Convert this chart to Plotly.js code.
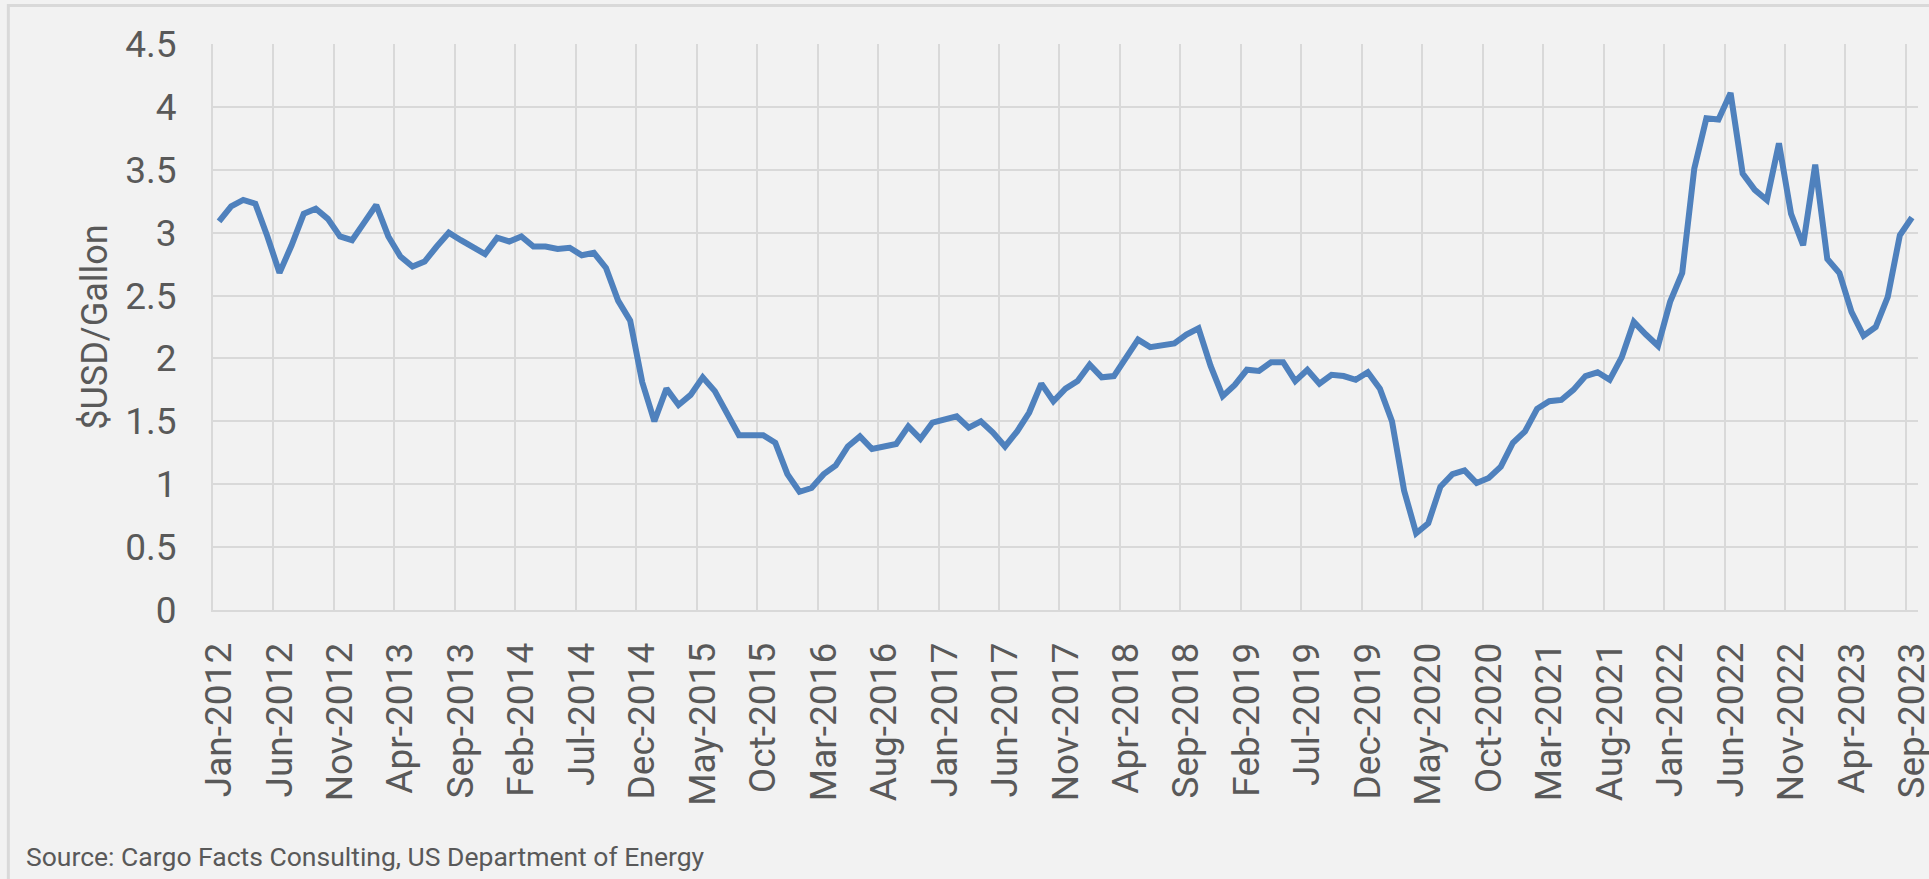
<!DOCTYPE html>
<html>
<head>
<meta charset="utf-8">
<script src="https://cdn.plot.ly/plotly-3.0.1.min.js"></script>
<style>
html,body{margin:0;padding:0;background:#f2f2f2;}
#chart{width:1929px;height:879px;}
</style>
</head>
<body>
<div id="chart"></div>
<script>
// Monthly jet fuel price, $USD/Gallon, Jan-2012 .. Sep-2023
const monthNames = ["Jan","Feb","Mar","Apr","May","Jun","Jul","Aug","Sep","Oct","Nov","Dec"];
const years = [2012,2013,2014,2015,2016,2017,2018,2019,2020,2021,2022,2023];

const price2012 = [3.09,3.21,3.26,3.23,2.97,2.68,2.90,3.15,3.19,3.11,2.97,2.94];
const price2013 = [3.08,3.22,2.97,2.81,2.73,2.77,2.89,3.00,2.94,2.89,2.83,2.96];
const price2014 = [2.93,2.97,2.89,2.89,2.87,2.88,2.82,2.84,2.72,2.46,2.30,1.81];
const price2015 = [1.50,1.76,1.63,1.71,1.85,1.74,1.57,1.39,1.39,1.39,1.33,1.08];
const price2016 = [0.94,0.97,1.08,1.15,1.30,1.38,1.28,1.30,1.32,1.46,1.36,1.49];
const price2017 = [1.52,1.54,1.45,1.50,1.41,1.30,1.42,1.57,1.80,1.66,1.76,1.82];
const price2018 = [1.95,1.85,1.86,2.01,2.15,2.09,2.10,2.12,2.19,2.24,1.94,1.70];
const price2019 = [1.79,1.91,1.90,1.97,1.97,1.82,1.91,1.80,1.87,1.86,1.83,1.89];
const price2020 = [1.76,1.50,0.95,0.61,0.69,0.98,1.08,1.11,1.01,1.05,1.14,1.33];
const price2021 = [1.42,1.60,1.66,1.67,1.75,1.86,1.89,1.83,2.01,2.29,2.19,2.10];
const price2022 = [2.45,2.68,3.51,3.91,3.90,4.11,3.47,3.34,3.26,3.71,3.15,2.90];
const price2023 = [3.54,2.79,2.68,2.37,2.18,2.25,2.49,2.98,3.12];

const yTickVals = [0,0.5,1,1.5,2,2.5,3,3.5,4,4.5];
const yTickText = ["0","0.5","1","1.5","2","2.5","3","3.5","4","4.5"];
const yTitle = "$USD/Gallon";
const sourceText = "Source: Cargo Facts Consulting, US Department of Energy";

const yearly = [price2012,price2013,price2014,price2015,price2016,price2017,
                price2018,price2019,price2020,price2021,price2022,price2023];
const categories = [];
const values = [];
yearly.forEach((arr, yi) => {
  arr.forEach((v, mi) => {
    categories.push(monthNames[mi] + "-" + years[yi]);
    values.push(v);
  });
});

const textColor = "#595959";
const gridColor = "#d9d9d9";
const W = 1929, H = 879;
const L = 212.7, R = 1918, T = 44.4, B = 610.4;
const pw = R - L, ph = B - T;
const px = x => (x - L) / pw;
const py = y => (B - y) / ph;

const trace = {
  type: "scatter",
  mode: "lines",
  x: categories,
  y: values,
  line: {color: "#4f81bd", width: 6, shape: "linear"},
  hoverinfo: "x+y"
};

const layout = {
  width: W, height: H,
  paper_bgcolor: "#f2f2f2",
  plot_bgcolor: "#f2f2f2",
  showlegend: false,
  margin: {l: L, r: W - R, t: T, b: H - B, pad: 0},
  font: {family: "Roboto, 'Liberation Sans', sans-serif", color: textColor},
  xaxis: {
    type: "category",
    range: [-0.5, categories.length - 0.5],
    tickmode: "linear", tick0: 0, dtick: 5,
    tickson: "boundaries",
    ticks: "",
    showgrid: true, gridcolor: gridColor, gridwidth: 2,
    showline: true, linecolor: gridColor, linewidth: 2,
    zeroline: false,
    tickangle: -90,
    tickfont: {size: 37, color: textColor},
    ticklabelstandoff: 16,
    fixedrange: true
  },
  yaxis: {
    range: [0, 4.5],
    tickmode: "array", tickvals: yTickVals, ticktext: yTickText,
    ticks: "",
    showgrid: true, gridcolor: gridColor, gridwidth: 2,
    zeroline: false, showline: true, linecolor: gridColor, linewidth: 2,
    tickfont: {size: 37, color: textColor},
    ticklabelstandoff: 27,
    title: {text: yTitle, font: {size: 36, color: textColor}, standoff: 7},
    fixedrange: true
  },
  shapes: [{
    type: "rect", xref: "paper", yref: "paper",
    x0: px(8), x1: px(W + 50), y0: py(H + 50), y1: py(6),
    line: {color: gridColor, width: 3}, fillcolor: "rgba(0,0,0,0)", layer: "below"
  }],
  annotations: [{
    text: sourceText, showarrow: false,
    xref: "paper", yref: "paper",
    x: px(24), y: py(857), xanchor: "left", yanchor: "middle",
    font: {size: 26.5, color: textColor}
  }]
};

Plotly.newPlot("chart", [trace], layout, {displayModeBar: false, staticPlot: true});
</script>
</body>
</html>
